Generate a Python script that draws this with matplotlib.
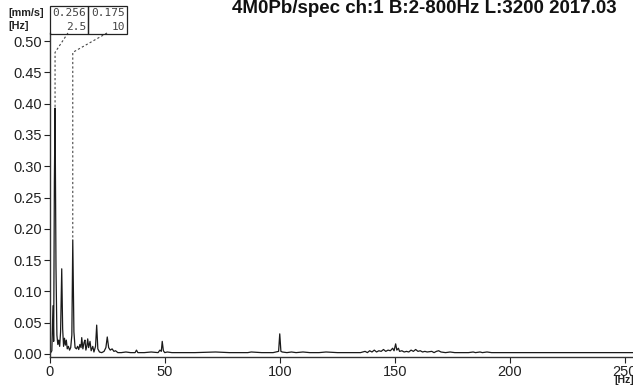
import matplotlib
matplotlib.use("Agg")
import matplotlib.pyplot as plt
from matplotlib.patches import Rectangle

# ---- data ----
low_band = [
    (0.0, 0.0), (0.8, 0.005), (1.3, 0.077), (1.6, 0.02), (1.9, 0.275), (2.2, 0.393),
    (2.6, 0.139), (3.0, 0.03), (3.4, 0.015), (3.8, 0.022), (4.2, 0.012), (4.6, 0.035),
    (5.1, 0.136), (5.5, 0.04), (5.9, 0.012), (6.3, 0.025), (6.7, 0.014), (7.1, 0.022),
    (7.5, 0.008), (8.0, 0.012), (8.5, 0.006), (9.0, 0.01), (9.5, 0.03), (9.9, 0.182),
    (10.4, 0.035), (10.9, 0.01), (11.5, 0.008), (12.0, 0.012), (12.5, 0.007), (13.0, 0.015),
    (13.5, 0.01), (13.8, 0.026), (14.3, 0.008), (14.8, 0.018), (15.2, 0.022), (15.6, 0.006),
    (16.0, 0.012), (16.4, 0.024), (16.8, 0.01), (17.4, 0.02), (17.9, 0.005), (18.6, 0.012),
    (19.1, 0.003), (19.8, 0.012), (20.3, 0.046), (20.8, 0.008), (21.5, 0.003), (22.5, 0.002),
    (23.5, 0.004), (24.3, 0.01), (24.9, 0.027), (25.5, 0.01), (26.2, 0.006), (27.0, 0.008),
    (27.8, 0.004), (28.5, 0.005), (29.5, 0.002),
]
mid_band = [
    (31, 0.002), (33, 0.003), (35, 0.002), (37, 0.002), (37.6, 0.006), (38.2, 0.002),
    (41, 0.002), (44, 0.003), (47, 0.002), (47.8, 0.006), (48.4, 0.004), (48.8, 0.02),
    (49.3, 0.005), (49.9, 0.002), (51, 0.003), (53, 0.002), (58, 0.002), (63, 0.002),
    (72, 0.003), (78, 0.002), (86, 0.002), (87.5, 0.003), (92, 0.002), (97, 0.002),
    (99.4, 0.004), (99.9, 0.032), (100.4, 0.004), (101, 0.003), (103, 0.002), (105, 0.003),
    (107, 0.002), (110, 0.003), (113, 0.002), (117, 0.002), (120, 0.003), (125, 0.002),
    (130, 0.002),
]
high_band = [
    (135, 0.002), (137, 0.004), (138, 0.002), (139, 0.005), (140, 0.003), (141, 0.006),
    (142, 0.003), (143, 0.005), (144, 0.004), (145, 0.007), (146, 0.004), (147, 0.006),
    (148, 0.005), (149, 0.009), (149.6, 0.005), (150.3, 0.016), (150.8, 0.006), (151.5, 0.009),
    (152, 0.004), (153, 0.005), (154, 0.003), (155, 0.004), (156, 0.003), (157, 0.006),
    (158, 0.004), (159, 0.007), (160, 0.004), (161, 0.005), (162, 0.003), (163, 0.004),
    (164, 0.003), (166, 0.004), (167, 0.002), (168, 0.004), (169, 0.005), (170, 0.003),
    (172, 0.002), (174, 0.003), (176, 0.002), (178, 0.002), (182, 0.002), (184, 0.003),
    (185, 0.002), (187, 0.003), (188, 0.002), (190, 0.003), (192, 0.002), (196, 0.002),
    (200, 0.002), (210, 0.002), (220, 0.002), (235, 0.002), (253.5, 0.002),
]

cursor_amps = ["0.256", "0.175"]
cursor_freqs = ["2.5", "10"]
cursor_peak_hz = [2.2, 9.9]
cursor_peak_amp = [0.393, 0.182]

x_ticks = [0, 50, 100, 150, 200, 250]
y_ticks = [0.00, 0.05, 0.10, 0.15, 0.20, 0.25, 0.30, 0.35, 0.40, 0.45, 0.50]
title = "4M0Pb/spec ch:1 B:2-800Hz L:3200 2017.03"

points = low_band + mid_band + high_band
freq_hz = [p[0] for p in points]
amp = [p[1] for p in points]

W, H = 633, 390
fig = plt.figure(figsize=(W / 100, H / 100), dpi=100)
fig.patch.set_facecolor("white")

def fx(px):
    return px / W

def fy(py):
    return 1 - py / H

ax = fig.add_axes([fx(50), fy(357), fx(633) - fx(50), fy(33) - fy(357)])
ax.plot(freq_hz, amp, color="#1a1a1a", lw=0.9)
ax.set_xlim(0, 253.5)
ax.set_ylim(-0.005, 0.513)
for s in ["top", "right"]:
    ax.spines[s].set_visible(False)
for s in ["left", "bottom"]:
    ax.spines[s].set_linewidth(1.0)
    ax.spines[s].set_color("#333333")

fnt = dict(family="Liberation Sans", size=10.5)
ax.set_xticks(x_ticks)
ax.set_xticklabels([str(t) for t in x_ticks], **fnt)
ax.set_yticks(y_ticks)
ax.set_yticklabels([f"{t:.2f}" for t in y_ticks], **fnt)
ax.tick_params(axis="both", direction="out", length=4, width=0.8, colors="#222222", pad=1.5)

# cursor leader lines (dashed)
start_hz = [7.8, 24.8]
for i, (fpk, apk) in enumerate(zip(cursor_peak_hz, cursor_peak_amp)):
    xs = [start_hz[i], fpk, fpk]
    ys = [0.513, 0.482, apk]
    ax.plot(xs, ys, color="#444444", lw=0.8, ls=(0, (2, 2)), clip_on=False)

# cursor boxes
box_x = [50, 88]
box_w = [38, 39]
for i in range(2):
    x0 = box_x[i]
    rect = Rectangle((fx(x0), fy(34)), fx(box_w[i]), fy(6) - fy(34),
                     transform=fig.transFigure, fill=False, edgecolor="#222222", lw=0.9)
    fig.patches.append(rect)
    fig.text(fx(x0 + box_w[i] - 2), fy(13), cursor_amps[i], ha="right", va="center",
             family="DejaVu Sans Mono", size=8, color="#444444")
    fig.text(fx(x0 + box_w[i] - 2), fy(27), cursor_freqs[i], ha="right", va="center",
             family="DejaVu Sans Mono", size=8, color="#444444")

fig.text(fx(8), fy(13), "[mm/s]", ha="left", va="center", family="Liberation Sans",
         size=7.8, weight="bold", color="#222222")
fig.text(fx(8), fy(26), "[Hz]", ha="left", va="center", family="Liberation Sans",
         size=7.8, weight="bold", color="#222222")
fig.text(fx(624), fy(380), "[Hz]", ha="center", va="center", family="Liberation Sans",
         size=7.5, weight="bold", color="#222222")

fig.text(fx(232), fy(0), title, ha="left", va="top", family="Liberation Sans",
         size=13.5, weight="bold", color="#111111")

fig.savefig("out.png", dpi=100, facecolor="white")
